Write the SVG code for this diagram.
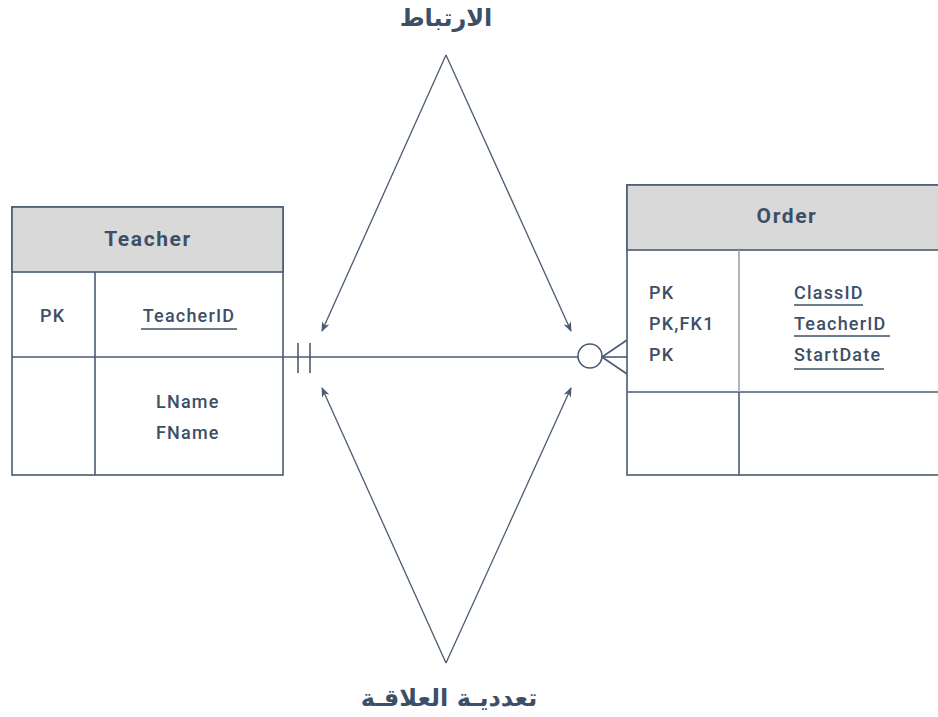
<svg xmlns="http://www.w3.org/2000/svg" width="938" height="717" viewBox="0 0 938 717">
<defs>
<style>
.ln{stroke:#4a5b72;stroke-width:1.6;fill:none}
.ar1{stroke:#4a5b72;stroke-width:1.3;fill:none}
.hd{fill:#d9d9d9;stroke:#4a5b72;stroke-width:1.6}
.bx{fill:#ffffff;stroke:#4a5b72;stroke-width:1.6}
.t{font-family:Roboto,"Open Sans",sans-serif;font-weight:500;fill:#3d4f66;font-size:18px;letter-spacing:1.2px}
.h{font-family:Roboto,"Open Sans",sans-serif;font-weight:700;fill:#3d4f66;font-size:21px;letter-spacing:1.6px}
.ar{font-family:"DejaVu Sans","Noto Sans",sans-serif;font-weight:bold;fill:#3d4f66;font-size:24px}
.ul{stroke:#3d4f66;stroke-width:1.5}
</style>
<marker id="ah" viewBox="0 0 10 10" refX="9" refY="5" markerWidth="10" markerHeight="10" markerUnits="userSpaceOnUse" orient="auto">
<path d="M0,1 L10,5 L0,9 L3,5 Z" fill="#4a5b72"/>
</marker>
</defs>

<g id="teacher">
<rect class="bx" x="12" y="207" width="271" height="268"/>
<rect class="hd" x="12" y="207" width="271" height="65"/>
<line class="ln" x1="12" y1="357" x2="283" y2="357"/>
<line class="ln" x1="95" y1="272" x2="95" y2="475"/>
<text class="h" x="148" y="246" text-anchor="middle">Teacher</text>
<text class="t" x="40" y="322">PK</text>
<text class="t" x="189" y="322" text-anchor="middle">TeacherID</text>
<line class="ul" x1="141" y1="329" x2="237" y2="329"/>
<text class="t" x="156" y="408">LName</text>
<text class="t" x="156" y="439">FName</text>
</g>

<g id="order">
<rect class="bx" x="627" y="185" width="320" height="290"/>
<rect class="hd" x="627" y="185" width="320" height="65"/>
<line class="ln" x1="627" y1="392" x2="947" y2="392"/>
<line x1="739" y1="250" x2="739" y2="392" stroke="#9aa3ad" stroke-width="1.6"/>
<line class="ln" x1="739" y1="392" x2="739" y2="475"/>
<text class="h" x="787" y="223" text-anchor="middle">Order</text>
<text class="t" x="649" y="299">PK</text>
<text class="t" x="649" y="330">PK,FK1</text>
<text class="t" x="649" y="361">PK</text>
<text class="t" x="794" y="299">ClassID</text>
<line class="ul" x1="794" y1="305" x2="863" y2="305"/>
<text class="t" x="794" y="330">TeacherID</text>
<line class="ul" x1="794" y1="336" x2="890" y2="336"/>
<text class="t" x="794" y="361">StartDate</text>
<line class="ul" x1="794" y1="369" x2="884" y2="369"/>
</g>

<g id="connectors">
<line class="ln" x1="283" y1="357" x2="578" y2="357"/>
<line class="ln" x1="298" y1="343" x2="298" y2="373"/>
<line class="ln" x1="310" y1="343" x2="310" y2="373"/>
<circle class="ln" cx="590" cy="356" r="12"/>
<line class="ln" x1="602" y1="357" x2="627" y2="357"/>
<line class="ln" x1="602" y1="357" x2="627" y2="340"/>
<line class="ln" x1="602" y1="357" x2="627" y2="374"/>
<line class="ar1" x1="446" y1="55" x2="322" y2="331" marker-end="url(#ah)"/>
<line class="ar1" x1="446" y1="55" x2="571" y2="331" marker-end="url(#ah)"/>
<line class="ar1" x1="446" y1="663" x2="322" y2="388" marker-end="url(#ah)"/>
<line class="ar1" x1="446" y1="663" x2="571" y2="388" marker-end="url(#ah)"/>
</g>

<g id="labels">
<text class="ar" x="446" y="26" text-anchor="middle" direction="rtl">الارتباط</text>
<text class="ar" x="449" y="706" text-anchor="middle" direction="rtl">تعدديـة العلاقـة</text>
</g>
</svg>
